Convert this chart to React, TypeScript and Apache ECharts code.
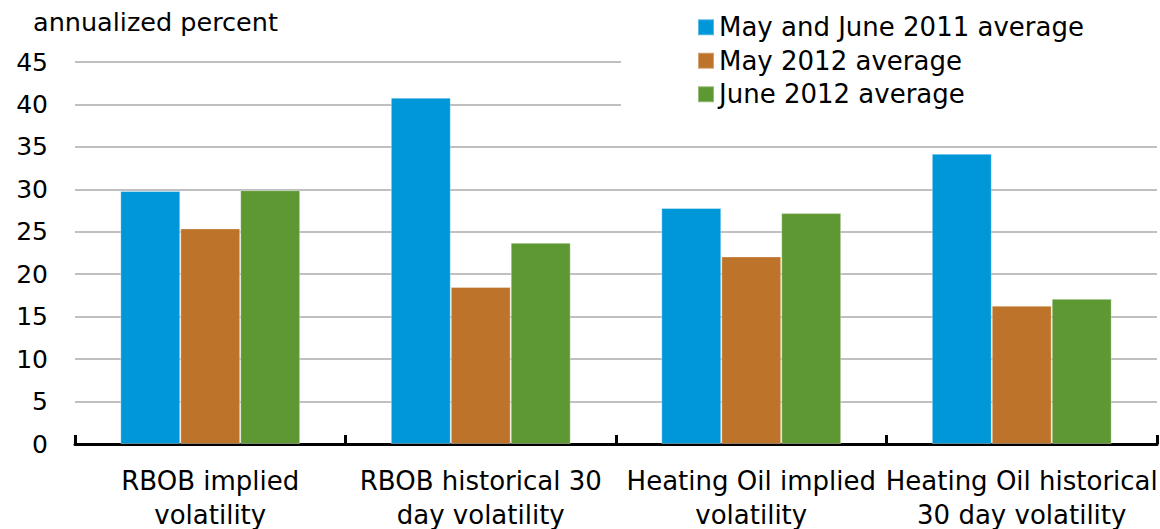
import React, { useEffect, useRef } from "react";
import * as echarts from "echarts";

const categories = [
  "RBOB implied\nvolatility",
  "RBOB historical 30\nday volatility",
  "Heating Oil implied\nvolatility",
  "Heating Oil historical\n30 day volatility",
];
const seriesNames = ["May and June 2011 average", "May 2012 average", "June 2012 average"];
const mayJune2011 = [29.8, 40.8, 27.8, 34.2];
const may2012 = [25.4, 18.5, 22.1, 16.3];
const june2012 = [29.9, 23.7, 27.2, 17.1];
const colors = ["#0097D9", "#BD732A", "#5E9833"];
const yTicks = { min: 0, max: 45, interval: 5 };
const yTitle = "annualized percent";

const FONT = "'DejaVu Sans', 'Liberation Sans', Arial, sans-serif";

export default function App() {
  const ref = useRef<HTMLDivElement>(null);
  useEffect(() => {
    if (!ref.current) return;
    const chart = echarts.init(ref.current, undefined, { renderer: "svg" });
    const data = [mayJune2011, may2012, june2012];
    chart.setOption({
      animation: false,
      backgroundColor: "#fff",
      textStyle: { fontFamily: FONT },
      grid: { left: 75, right: 3, top: 62, bottom: 85, containLabel: false, outerBoundsMode: "none" },
      graphic: [
        {
          type: "rect",
          z: 3,
          shape: { x: 621, y: 0, width: 539, height: 120 },
          style: { fill: "#fff" },
        },
        {
          type: "text",
          z: 5,
          x: 33,
          y: 22,
          style: {
            text: yTitle,
            font: `25.5px ${FONT}`,
            fill: "#000",
            verticalAlign: "middle",
            align: "left",
          },
        },
      ],
      legend: {
        orient: "vertical",
        left: 697,
        top: 14,
        padding: 0,
        itemWidth: 16,
        itemHeight: 16,
        itemGap: 7,
        icon: "rect",
        z: 6,
        data: seriesNames,
        textStyle: { fontSize: 26, fontFamily: FONT, color: "#000", lineHeight: 26.5 },
      },
      xAxis: {
        type: "category",
        data: categories,
        boundaryGap: true,
        axisLine: { show: true, lineStyle: { color: "#000", width: 3 } },
        axisTick: { show: true, inside: true, length: 9, lineStyle: { color: "#000", width: 3 } },
        axisLabel: {
          interval: 0,
          fontSize: 26,
          fontFamily: FONT,
          color: "#000",
          lineHeight: 34,
          margin: 20,
        },
      },
      yAxis: {
        type: "value",
        min: yTicks.min,
        max: yTicks.max,
        interval: yTicks.interval,
        axisLine: { show: false },
        axisTick: { show: false },
        axisLabel: { fontSize: 25, fontFamily: FONT, color: "#000", margin: 27 },
        splitLine: { show: true, lineStyle: { color: "#C0C0C0", width: 2 } },
      },
      series: seriesNames.map((name, i) => ({
        name,
        type: "bar",
        data: data[i],
        barGap: "0%",
        barCategoryGap: "33.5%",
        itemStyle: { color: colors[i], borderColor: "rgba(255,255,255,0.35)", borderWidth: 1 },
      })),
    });
    return () => chart.dispose();
  }, []);
  return (
    <div
      ref={ref}
      style={{ position: "fixed", left: 0, top: 0, width: 1160, height: 529 }}
    />
  );
}
